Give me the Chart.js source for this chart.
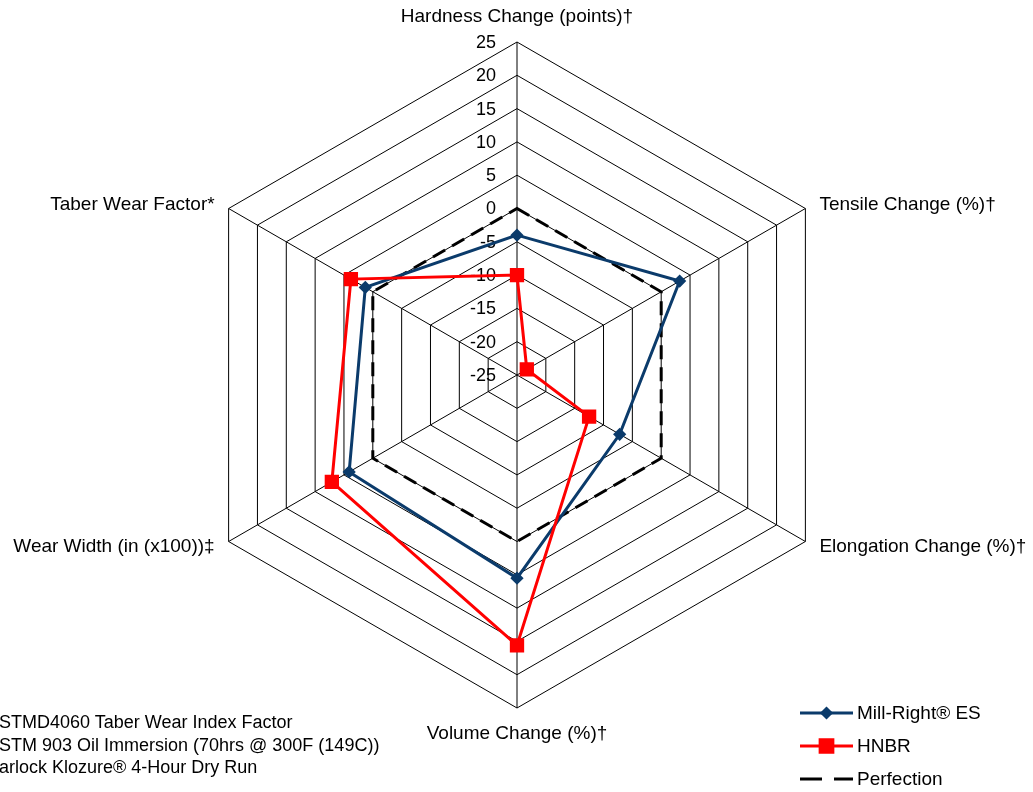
<!DOCTYPE html>
<html><head><meta charset="utf-8">
<script src="https://cdn.jsdelivr.net/npm/chart.js@4/dist/chart.umd.min.js"></script>
<style>
html,body{margin:0;padding:0;background:#fff;}
#wrap{position:relative;width:1033px;height:792px;overflow:hidden;}
#c{position:absolute;left:0;top:0;}
#notes{position:absolute;left:-1px;top:711px;font:18px "Liberation Sans",Arial,sans-serif;color:#000;white-space:nowrap;line-height:22.5px;}
</style></head><body>
<div id="wrap"><canvas id="c" width="1033" height="792"></canvas><div id="notes"></div></div>
<script>
const categories = ["Hardness Change (points)\u2020","Tensile Change (%)\u2020","Elongation Change (%)\u2020","Volume Change (%)\u2020","Wear Width (in (x100))\u2021","Taber Wear Factor*"];
const millRight = [-4, 3.2, -7.2, 5.5, 4.1, 1.3];
const hnbr = [-10, -23.3, -12.5, 15.6, 7.1, 3.8];
const perfection = [0, 0, 0, 0, 0, 0];
const tickValues = [25, 20, 15, 10, 5, 0, -5, -10, -15, -20, -25];
const seriesNames = ["Mill-Right\u00ae ES", "HNBR", "Perfection"];
const footnotes = ["STMD4060 Taber Wear Index Factor", "STM 903 Oil Immersion (70hrs @ 300F (149C))", "arlock Klozure\u00ae 4-Hour Dry Run"];

document.getElementById('notes').innerHTML = footnotes.map(t => '<div>' + t.replace(/&/g,'&amp;') + '</div>').join('');

const FONT = '"Liberation Sans", Arial, sans-serif';

const overlay = {
  id: 'overlay',
  beforeDatasetsDraw(chart) {
    const s = chart.scales.r, ctx = chart.ctx;
    ctx.save();
    ctx.fillStyle = '#000';
    ctx.font = '18px ' + FONT;
    ctx.textAlign = 'right';
    ctx.textBaseline = 'middle';
    tickValues.forEach(v => {
      const d = s.getDistanceFromCenterForValue(v);
      ctx.fillText(String(v), s.xCenter - 21, s.yCenter - d + 1);
    });
    ctx.font = '19px ' + FONT;
    categories.forEach((lab, i) => {
      const p = s.getPointPosition(i, s.drawingArea);
      if (Math.abs(p.x - s.xCenter) < 2) {
        ctx.textAlign = 'center';
        ctx.fillText(lab, p.x, p.y < s.yCenter ? p.y - 25 : p.y + 26);
      } else {
        const right = p.x > s.xCenter;
        ctx.textAlign = right ? 'left' : 'right';
        ctx.fillText(lab, right ? p.x + 14 : p.x - 14, p.y + (p.y < s.yCenter ? -4 : 5));
      }
    });
    ctx.restore();
  },
  afterDraw(chart) {
    const ctx = chart.ctx;
    const ys = [713, 746, 779];
    chart.data.datasets.forEach((ds, i) => {
      const y = ys[i];
      ctx.save();
      ctx.strokeStyle = ds.borderColor;
      ctx.lineWidth = 3;
      ctx.setLineDash(ds.borderDash ? [22, 12] : []);
      ctx.beginPath();
      ctx.moveTo(800, y); ctx.lineTo(853, y);
      ctx.stroke();
      ctx.setLineDash([]);
      if (ds.pointRadius > 0) {
        ctx.fillStyle = ds.pointBackgroundColor;
        ctx.strokeStyle = ds.pointBorderColor;
        Chart.helpers.drawPoint(ctx, {pointStyle: ds.pointStyle, radius: ds.legendRadius, rotation: 0, borderWidth: 1}, 826.5, y);
      }
      ctx.fillStyle = '#000';
      ctx.font = '19px ' + FONT;
      ctx.textAlign = 'left';
      ctx.textBaseline = 'middle';
      ctx.fillText(ds.label, 857, y + 1);
      ctx.restore();
    });
  }
};

new Chart(document.getElementById('c'), {
  type: 'radar',
  data: {
    labels: categories,
    datasets: [
      {label: seriesNames[0], data: millRight, borderColor: '#0b3b6b', backgroundColor: '#0b3b6b', pointBackgroundColor: '#0b3b6b', pointBorderColor: '#0b3b6b', borderWidth: 3, pointStyle: 'rectRot', pointRadius: 4.5, legendRadius: 4.5, fill: false, order: 1},
      {label: seriesNames[1], data: hnbr, borderColor: '#ff0000', backgroundColor: '#ff0000', pointBackgroundColor: '#ff0000', pointBorderColor: '#ff0000', borderWidth: 3, pointStyle: 'rect', pointRadius: 8, legendRadius: 9, fill: false, order: 0},
      {label: seriesNames[2], data: perfection, borderColor: '#000000', backgroundColor: '#000000', borderWidth: 3, borderDash: [14, 8], pointRadius: 0, legendRadius: 0, fill: false, order: 2}
    ]
  },
  options: {
    responsive: false,
    devicePixelRatio: 1,
    animation: false,
    layout: {padding: {top: 42, bottom: 83, left: 1, right: 0}},
    elements: {line: {tension: 0}},
    plugins: {legend: {display: false}, tooltip: {enabled: false}},
    scales: {
      r: {
        min: -25, max: 25,
        ticks: {display: false, stepSize: 5},
        grid: {color: '#000', lineWidth: 1},
        angleLines: {color: '#000', lineWidth: 1},
        pointLabels: {display: false}
      }
    }
  },
  plugins: [overlay]
});
</script>
</body></html>
